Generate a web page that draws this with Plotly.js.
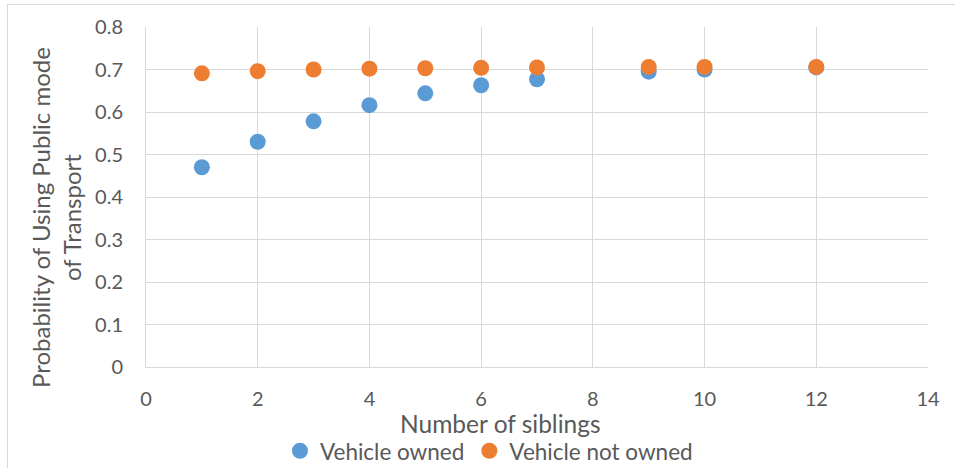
<!DOCTYPE html>
<html>
<head>
<meta charset="utf-8">
<script src="https://cdn.plot.ly/plotly-3.0.1.min.js"></script>
<style>
  html, body { margin: 0; padding: 0; background: #fff; overflow: hidden; }
  #wrap { position: relative; width: 955px; height: 468px; }
  #chart { position: absolute; left: 0; top: 0; width: 955px; height: 468px; }
  #frame { position: absolute; left: 7px; top: 4px; width: 970px; height: 480px;
           border: 1px solid #D9D9D9; pointer-events: none; }
</style>
</head>
<body>
<div id="wrap">
  <div id="chart"></div>
  <div id="frame"></div>
</div>
<script>
// Number of siblings
const siblings = [1, 2, 3, 4, 5, 6, 7, 9, 10, 12];
// Probability of using public transport, by vehicle ownership
const vehicleOwned = [0.470, 0.530, 0.578, 0.616, 0.644, 0.663, 0.677, 0.695, 0.700, 0.705];
const vehicleNotOwned = [0.691, 0.696, 0.700, 0.702, 0.703, 0.704, 0.705, 0.706, 0.706, 0.706];
const seriesNames = ['Vehicle owned', 'Vehicle not owned'];
const xTicks = [0, 2, 4, 6, 8, 10, 12, 14];
const yTicks = [0, 0.1, 0.2, 0.3, 0.4, 0.5, 0.6, 0.7, 0.8];

const FONT = 'Lato, "Open Sans", sans-serif';
const TEXT = '#595959';
const GRID = '#D9D9D9';

const traces = [
  {
    x: siblings, y: vehicleOwned, name: seriesNames[0],
    type: 'scatter', mode: 'markers',
    marker: { color: '#5B9BD5', size: 16 }
  },
  {
    x: siblings, y: vehicleNotOwned, name: seriesNames[1],
    type: 'scatter', mode: 'markers',
    marker: { color: '#ED7D31', size: 16 }
  }
];

const layout = {
  width: 955, height: 468,
  margin: { l: 146, r: 27, t: 27, b: 101, autoexpand: false },
  paper_bgcolor: 'rgba(0,0,0,0)',
  plot_bgcolor: '#fff',
  font: { family: FONT, color: TEXT, size: 20 },
  showlegend: true,
  legend: {
    orientation: 'h',
    xref: 'container', x: 0.512, xanchor: 'center',
    yref: 'container', y: 0.036, yanchor: 'middle',
    font: { family: FONT, color: TEXT, size: 22.5 },
    itemsizing: 'trace', itemwidth: 30, tracegroupgap: 0
  },
  xaxis: {
    range: [0, 14], tickvals: xTicks, ticktext: xTicks.map(String),
    automargin: false,
    showgrid: true, gridcolor: GRID, gridwidth: 1,
    zeroline: false, showline: true, linecolor: GRID, linewidth: 1,
    ticks: '', ticklabelstandoff: 14,
    tickfont: { family: FONT, color: TEXT, size: 20 }
  },
  yaxis: {
    range: [0, 0.8], tickvals: yTicks, ticktext: yTicks.map(v => v === 0 ? '0' : v.toFixed(1)),
    automargin: false,
    showgrid: true, gridcolor: GRID, gridwidth: 1,
    zeroline: false, showline: true, linecolor: GRID, linewidth: 1,
    ticks: '', ticklabelstandoff: 18,
    tickfont: { family: FONT, color: TEXT, size: 20 }
  },
  annotations: [
    {
      text: 'Number of siblings',
      xref: 'paper', yref: 'paper', x: 0.5, y: 0,
      xanchor: 'center', yanchor: 'middle', xshift: -37, yshift: -56,
      showarrow: false,
      font: { family: FONT, color: TEXT, size: 24.5 }
    },
    {
      text: 'Probability of Using Public mode<br>of Transport',
      xref: 'paper', yref: 'paper', x: 0, y: 0.5,
      xanchor: 'center', yanchor: 'middle', xshift: -90, yshift: -21,
      textangle: -90, showarrow: false,
      font: { family: FONT, color: TEXT, size: 24 }
    }
  ]
};

Plotly.newPlot('chart', traces, layout, { displayModeBar: false, staticPlot: true });
</script>
</body>
</html>
